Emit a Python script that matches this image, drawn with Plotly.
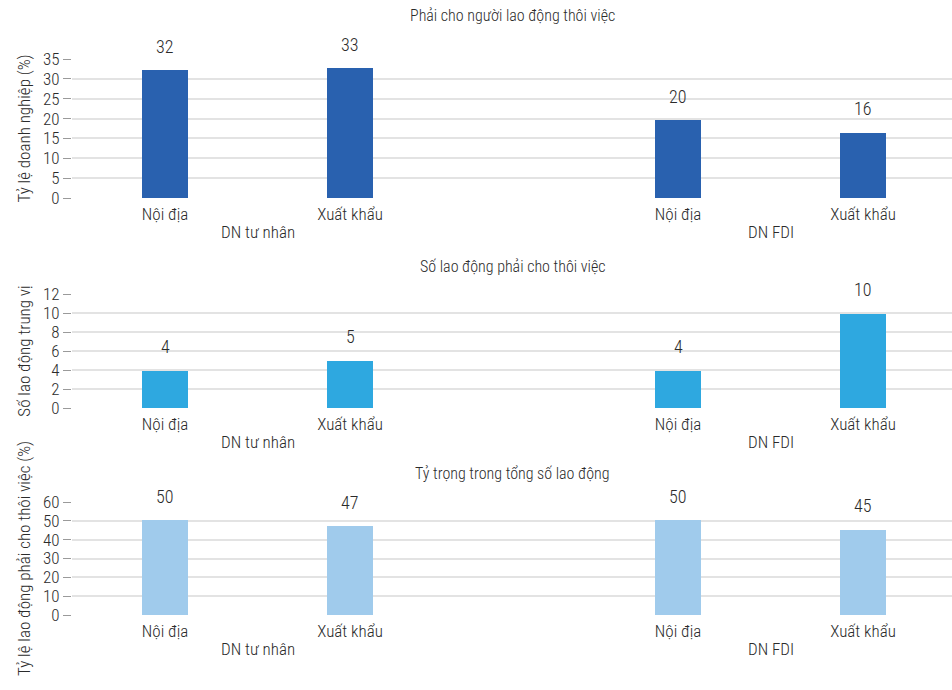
import plotly.graph_objects as go

groups = ["DN tư nhân", "DN tư nhân", "DN FDI", "DN FDI"]
categories = ["Nội địa", "Xuất khẩu", "Nội địa", "Xuất khẩu"]
positions = [0, 1, 2.773, 3.773]

titles = ["Phải cho người lao động thôi việc",
          "Số lao động phải cho thôi việc",
          "Tỷ trọng trong tổng số lao động"]
ytitles = ["Tỷ lệ doanh nghiệp (%)",
           "Số lao động trung vị",
           "Tỷ lệ lao động phải cho thôi việc (%)"]
share_firms = [32.2, 32.7, 19.6, 16.4]
median_workers = [3.9, 5.0, 3.9, 9.9]
share_workers = [50.2, 47.2, 50.2, 45.3]
series = [share_firms, median_workers, share_workers]
yticks = [[0, 5, 10, 15, 20, 25, 30, 35], [0, 2, 4, 6, 8, 10, 12], [0, 10, 20, 30, 40, 50, 60]]
colors = ["#2961AF", "#2EA8E0", "#A0CBEC"]

FONT = "Roboto Condensed, Liberation Sans Narrow, Roboto, sans-serif"
W = 300
TXT = "#2b2b2b"
H = 690
# pixel extents of each plot (top, bottom)
extents = [(59, 198), (294, 408), (502, 615)]

fig = go.Figure()
annotations = []
for i in range(3):
    ax = "" if i == 0 else str(i + 1)
    top, bot = extents[i]
    dom = [1 - bot / H, 1 - top / H]
    fig.add_trace(go.Bar(x=positions, y=series[i], width=0.25,
                         marker=dict(color=colors[i], line=dict(width=0)),
                         xaxis="x" + ax, yaxis="y" + ax, showlegend=False,
                         hoverinfo="skip"))
    fig.layout["xaxis" + ax] = dict(
        domain=[0, 1], range=[-0.503, 4.254], anchor="y" + ax, automargin=False,
        tickvals=positions, ticktext=categories, showgrid=False, zeroline=False,
        showline=False, ticks="", ticklabelstandoff=4,
        tickfont=dict(family=FONT, size=17, color=TXT, weight=W))
    fig.layout["yaxis" + ax] = dict(
        domain=dom, range=[0, yticks[i][-1]], anchor="x" + ax, automargin=False,
        tickvals=yticks[i], showgrid=True, gridcolor="#E3E3E3", gridwidth=1.5,
        zeroline=False, ticks="outside", ticklen=8, tickcolor="#9A9A9A",
        tickfont=dict(family=FONT, size=17, color=TXT, weight=W),
        title=dict(text=ytitles[i], standoff=8,
                   font=dict(family=FONT, size=17, color=TXT, weight=W)))
    # panel title
    annotations.append(dict(text=titles[i], xref="paper", yref="paper",
                            x=0.5, y=dom[1], yshift=44 if i == 0 else 28,
                            showarrow=False, yanchor="middle",
                            font=dict(family=FONT, size=16, color=TXT, weight=W)))
    # value labels
    for p, v in zip(positions, series[i]):
        annotations.append(dict(text=str(round(v)), x=p, y=v, xref="x" + ax, yref="y" + ax,
                                showarrow=False, yanchor="middle", yshift=24,
                                font=dict(family=FONT, size=18, color=TXT, weight=W)))
    # group labels
    for g in ["DN tư nhân", "DN FDI"]:
        ps = [p for p, gg in zip(positions, groups) if gg == g]
        annotations.append(dict(text=g, x=sum(ps) / len(ps), xref="x" + ax,
                                y=dom[0], yref="paper", yshift=-34, yanchor="middle",
                                showarrow=False,
                                font=dict(family=FONT, size=17, color=TXT, weight=W)))

fig.update_layout(width=952, height=690, margin=dict(l=72, r=0, t=0, b=0, autoexpand=False),
                  paper_bgcolor="white", plot_bgcolor="white",
                  annotations=annotations, bargap=0)
fig.write_html("out.html", config={"displayModeBar": False},
               post_script="document.body.style.margin='0';document.body.style.overflow='hidden';")
